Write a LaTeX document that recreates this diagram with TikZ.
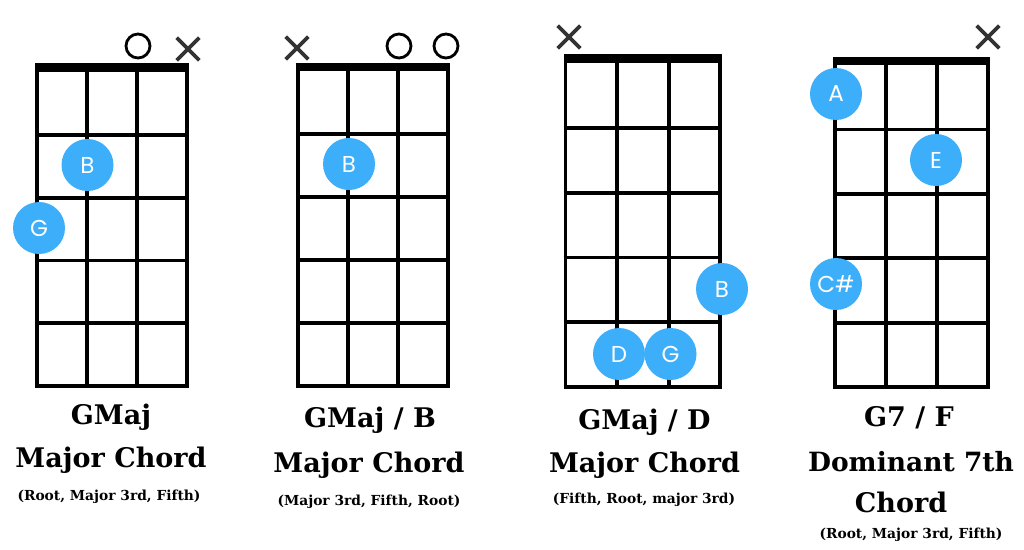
\documentclass[tikz,border=0pt]{standalone}
\usepackage{fontspec}
\setmainfont{DejaVu Serif}
\newfontfamily\dotfont{Poppins}
\usetikzlibrary{shapes.misc}
\definecolor{dotblue}{RGB}{61,174,250}
\definecolor{markgray}{RGB}{51,51,51}
\tikzset{
  gridline/.style={line width=3.8pt, black},
  notedot/.style={circle, fill=dotblue, minimum size=52pt, inner sep=0pt, text=white, font=\dotfont\fontsize{23}{23}\selectfont},
  opencirc/.style={circle, draw=black, line width=2.8pt, minimum size=24pt, inner sep=0pt},
  mutemark/.style={cross out, draw=markgray, line width=3.6pt, minimum size=19pt, inner sep=0pt},
  titletext/.style={font=\bfseries\fontsize{27}{27}\selectfont, inner sep=0pt},
  subtext/.style={font=\bfseries\fontsize{13.8}{13.8}\selectfont, inner sep=0pt},
}
% #1 x0, #2 dx, #3 nut top, #4 nut bottom, #5 bottom
\newcommand\chordgrid[5]{%
  \fill[black] ({#1-1.9},#3) rectangle ({#1+3*#2+1.9},#4);
  \foreach \i in {0,...,3} {\draw[gridline] ({#1+\i*#2},#4) -- ({#1+\i*#2},#5);}
  \foreach \j in {1,...,5} {\draw[gridline] ({#1-1.9},{#4+\j*(#5-#4)/5}) -- ({#1+3*#2+1.9},{#4+\j*(#5-#4)/5});}
}
\begin{document}
\begin{tikzpicture}[x=1pt,y=-1pt]
\useasboundingbox[fill=white] (0,0) rectangle (1024,549);

% Diagram 1
\chordgrid{37}{50}{63}{72}{386}
\node[opencirc] (d1o) at (138,46) {};
\node[mutemark] (d1x) at (188,49) {};
\node[notedot] (d1B) at (87.5,165) {B};
\node[notedot] (d1G) at (39,228) {G};
\node[titletext] (t1a) at (111,417) {GMaj};
\node[titletext] (t1b) at (111,460) {Major Chord};
\node[subtext] (t1c) at (109,497) {(Root, Major 3rd, Fifth)};

% Diagram 2
\chordgrid{298}{50}{63}{71}{386}
\node[mutemark] (d2x) at (297,48) {};
\node[opencirc] (d2o1) at (399,46) {};
\node[opencirc] (d2o2) at (446,46) {};
\node[notedot] (d2B) at (349,164) {B};
\node[titletext] (t2a) at (370,420) {GMaj / B};
\node[titletext] (t2b) at (369,465) {Major Chord};
\node[subtext] (t2c) at (369,502) {(Major 3rd, Fifth, Root)};

% Diagram 3
\chordgrid{565.5}{51.6}{54}{63}{387}
\node[mutemark] (d3x) at (569,37) {};
\node[notedot] (d3B) at (722,289) {B};
\node[notedot] (d3D) at (619,354) {D};
\node[notedot] (d3G) at (670.5,354) {G};
\node[titletext] (t3a) at (644.5,422) {GMaj / D};
\node[titletext] (t3b) at (644.5,465) {Major Chord};
\node[subtext] (t3c) at (644,500) {(Fifth, Root, major 3rd)};

% Diagram 4
\chordgrid{835}{51}{57}{65}{387}
\node[mutemark] (d4x) at (988,37) {};
\node[notedot] (d4A) at (836,94) {A};
\node[notedot] (d4E) at (936,160) {E};
\node[notedot] (d4C) at (836,284) {C\#};
\node[titletext] (t4a) at (909,418) {G7 / F};
\node[titletext,font=\bfseries\fontsize{26.5}{26.5}\selectfont] (t4b) at (911,462) {Dominant 7th};
\node[titletext] (t4c) at (901,502) {Chord};
\node[subtext] (t4d) at (911,535) {(Root, Major 3rd, Fifth)};
\end{tikzpicture}
\end{document}
